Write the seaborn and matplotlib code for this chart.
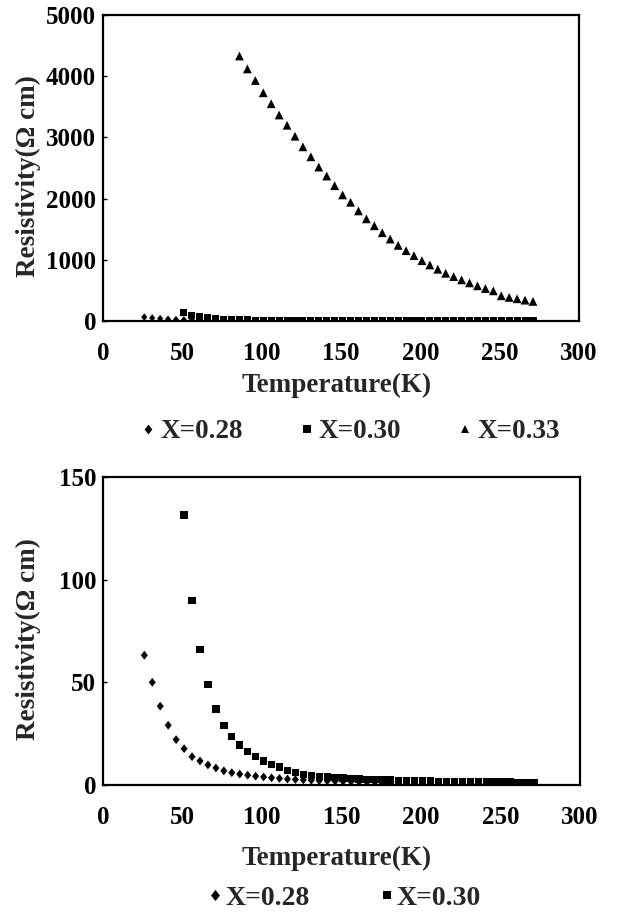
import matplotlib
matplotlib.use("Agg")
import matplotlib.pyplot as plt
from matplotlib.lines import Line2D
import seaborn as sns
import pandas as pd

# ---------------- data ----------------
temp_028 = [26, 31, 36, 41, 46, 51, 56, 61, 66, 71, 76, 81, 86, 91, 96, 101, 106, 111,
            116, 121, 126, 131, 136, 141, 146, 151, 156, 161, 166, 171, 176, 181, 186,
            191, 196, 201, 206, 211, 216, 221, 226, 231, 236, 241, 246, 251, 256, 261,
            266, 271]
rho_028 = [63.2, 50.0, 38.4, 29.1, 22.1, 17.7, 13.8, 11.7, 9.8, 8.3, 6.9, 6.0, 5.3, 4.8,
           4.3, 3.9, 3.5, 3.2, 2.9, 2.7, 2.5, 2.3, 2.1, 2.0, 1.9, 1.8, 1.7, 1.6, 1.5, 1.4,
           1.35, 1.3, 1.25, 1.2, 1.15, 1.1, 1.05, 1.0, 0.98, 0.95, 0.92, 0.9, 0.87, 0.85,
           0.83, 0.8, 0.78, 0.76, 0.74, 0.72]

temp_030 = [51, 56, 61, 66, 71, 76, 81, 86, 91, 96, 101, 106, 111, 116, 121, 126, 131,
            136, 141, 146, 151, 156, 161, 166, 171, 176, 181, 186, 191, 196, 201, 206,
            211, 216, 221, 226, 231, 236, 241, 246, 251, 256, 261, 266, 271]
rho_030 = [131.5, 90.0, 66.0, 48.8, 37.0, 29.1, 23.5, 19.4, 16.2, 13.9, 11.7, 10.0, 8.7,
           7.2, 6.1, 5.2, 4.6, 4.2, 3.9, 3.6, 3.4, 3.2, 3.0, 2.8, 2.6, 2.5, 2.4, 2.3, 2.2,
           2.1, 2.0, 1.9, 1.85, 1.8, 1.75, 1.7, 1.65, 1.6, 1.55, 1.5, 1.45, 1.4, 1.35,
           1.3, 1.25]

temp_033 = [86, 91, 96, 101, 106, 111, 116, 121, 126, 131, 136, 141, 146, 151, 156, 161,
            166, 171, 176, 181, 186, 191, 196, 201, 206, 211, 216, 221, 226, 231, 236,
            241, 246, 251, 256, 261, 266, 271]
rho_033 = [4330, 4119, 3930, 3729, 3550, 3366, 3198, 3019, 2846, 2683, 2515, 2369, 2211,
           2060, 1940, 1799, 1669, 1556, 1442, 1339, 1236, 1149, 1068, 986, 916, 846, 780,
           726, 672, 623, 575, 531, 493, 412, 385, 363, 341, 320]

labels = ["X=0.28", "X=0.30", "X=0.33"]
x_ticks = [0, 50, 100, 150, 200, 250, 300]
y_ticks_top = [0, 1000, 2000, 3000, 4000, 5000]
y_ticks_bottom = [0, 50, 100, 150]
x_label = "Temperature(K)"
y_label = "Resistivity(\u03a9 cm)"

df028 = pd.DataFrame({"T": temp_028, "rho": rho_028})
df030 = pd.DataFrame({"T": temp_030, "rho": rho_030})
df033 = pd.DataFrame({"T": temp_033, "rho": rho_033})

# ---------------- style ----------------
sns.set_theme(style="white")
plt.rcParams["font.family"] = ["Liberation Serif", "DejaVu Serif"]
plt.rcParams["font.weight"] = "bold"
plt.rcParams["axes.labelweight"] = "bold"

diamond = [(0, 1), (0.8, 0), (0, -1), (-0.8, 0), (0, 1)]

fig = plt.figure(figsize=(6.23, 9.13), dpi=100)
ax1 = fig.add_axes([103 / 623, 1 - 321 / 913, 476 / 623, 306 / 913])
ax2 = fig.add_axes([103 / 623, 1 - 785 / 913, 477 / 623, 308 / 913])

def style_axes(ax, yticks, xlabel_y):
    ax.set_xlim(0, 300)
    ax.set_ylim(yticks[0], yticks[-1])
    ax.set_xticks(x_ticks)
    ax.set_yticks(yticks)
    for s in ax.spines.values():
        s.set_visible(True)
        s.set_color("black")
        s.set_linewidth(1.6)
    ax.tick_params(axis="y", direction="in", length=3, width=1, colors="black",
                   labelsize=18, pad=5, left=True)
    ax.tick_params(axis="x", direction="in", length=0, colors="black",
                   labelsize=18, pad=15, bottom=True)
    for lab in ax.get_xticklabels() + ax.get_yticklabels():
        lab.set_fontweight("bold")
    ax.set_xlabel(x_label, fontsize=19.5, fontweight="bold")
    ax.set_ylabel(y_label, fontsize=19.5, fontweight="bold")
    ax.xaxis.set_label_coords(0.49, xlabel_y)
    ax.yaxis.set_label_coords(-0.13, 0.475)
    ax.grid(False)

# top panel
sns.scatterplot(data=df028, x="T", y="rho", ax=ax1, marker=diamond, s=30,
                color="black", edgecolor="none", linewidth=0, zorder=3)
sns.scatterplot(data=df030, x="T", y="rho", ax=ax1, marker="s", s=26,
                color="black", edgecolor="none", linewidth=0, zorder=3)
sns.scatterplot(data=df033, x="T", y="rho", ax=ax1, marker="^", s=40,
                color="black", edgecolor="none", linewidth=0, zorder=3)
style_axes(ax1, y_ticks_top, -0.17)

# bottom panel
sns.scatterplot(data=df028, x="T", y="rho", ax=ax2, marker=diamond, s=40,
                color="black", edgecolor="none", linewidth=0, zorder=3)
sns.scatterplot(data=df030, x="T", y="rho", ax=ax2, marker="s", s=28,
                color="black", edgecolor="none", linewidth=0, zorder=3)
style_axes(ax2, y_ticks_bottom, -0.198)

def mk(marker, ms):
    return Line2D([], [], linestyle="none", marker=marker, markersize=ms,
                  color="black", markeredgewidth=0)

def leg_font(size):
    return {"family": ["Liberation Serif", "DejaVu Serif"], "weight": "bold", "size": size}

fig.legend([mk(diamond, 7), mk("s", 6), mk("^", 6)], labels, loc="center",
           bbox_to_anchor=(350 / 623, 1 - 432 / 913), ncol=3, frameon=False,
           prop=leg_font(19.5), handlelength=0.6, handletextpad=0.15,
           columnspacing=2.05, borderaxespad=0)
fig.legend([mk(diamond, 8), mk("s", 6)], labels[:2], loc="center",
           bbox_to_anchor=(344 / 623, 1 - 898 / 913), ncol=2, frameon=False,
           prop=leg_font(20), handlelength=0.6, handletextpad=0.05,
           columnspacing=2.5, borderaxespad=0)

fig.savefig("out.png", dpi=100, facecolor="white")
